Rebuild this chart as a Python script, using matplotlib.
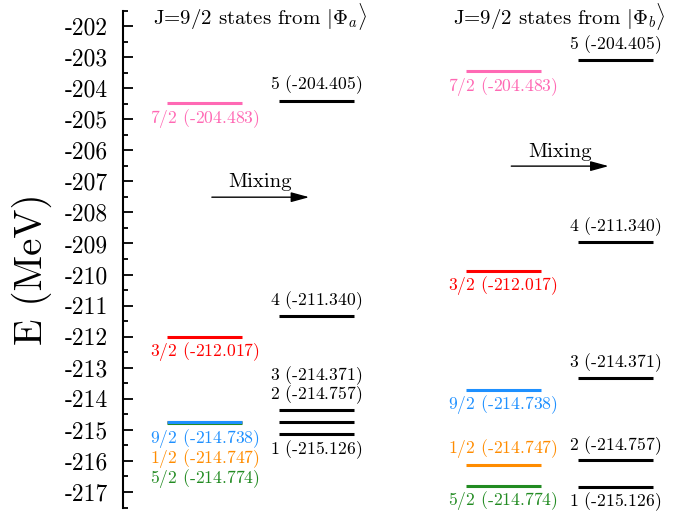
import matplotlib
matplotlib.use("Agg")
import matplotlib.pyplot as plt
from matplotlib.ticker import MultipleLocator, FuncFormatter

plt.rcParams['font.family'] = 'cmr10'
plt.rcParams['mathtext.fontset'] = 'cm'
plt.rcParams['axes.unicode_minus'] = False

# unmixed states (J labels and energies)
j_labels = ["7/2", "3/2", "9/2", "1/2", "5/2"]
j_energy = [-204.483, -212.017, -214.738, -214.747, -214.774]
j_colors = ["#ff69b4", "#ff0000", "#1e90ff", "#ff8c00", "#228b22"]

# mixed states
mix_labels = ["5", "4", "3", "2", "1"]
mix_energy = [-204.405, -211.340, -214.371, -214.757, -215.126]

# where the levels are drawn in the right (schematic) panel
b_j_draw = [-203.45, -209.89, -213.72, -216.13, -216.80]
b_mix_draw = [-203.09, -208.96, -213.34, -215.98, -216.83]

# label y positions for the left panel
a_j_label_y = [-204.97, -212.48, -215.27, -215.91, -216.58]
a_mix_label_y = [-203.90, -210.85, -213.26, -213.88, -215.65]
# label y positions for the right panel
b_j_label_y = [-203.95, -210.36, -214.20, -215.59, -217.29]
b_mix_label_y = [-202.61, -208.46, -212.84, -215.51, -217.31]

fig = plt.figure(figsize=(6.89, 5.13), dpi=100)
ax = fig.add_axes([123 / 689, 5.5 / 513, 566 / 689, 497 / 513])
ax.set_xlim(0, 10)
ax.set_ylim(-217.5, -201.5)

half = 0.66
lw = 2.2
fs = 12.7

def level_label(x, y, num, val, color):
    ax.text(x, y, "$" + num + "$ (" + val + ")", color=color, fontsize=fs,
            ha="center", va="center")

for xc_j, xc_m, jy, my, jly, mly, title in [
        (1.44, 3.415, j_energy, mix_energy, a_j_label_y, a_mix_label_y, r"J=9/2 states from $|\Phi_a\rangle$"),
        (6.72, 8.70, b_j_draw, b_mix_draw, b_j_label_y, b_mix_label_y, r"J=9/2 states from $|\Phi_b\rangle$")]:
    for i in [0, 1, 4, 3, 2]:
        ax.hlines(jy[i], xc_j - half, xc_j + half, color=j_colors[i], lw=lw)
        level_label(xc_j, jly[i], j_labels[i], "%.3f" % j_energy[i], j_colors[i])
    for i in range(len(mix_labels)):
        ax.hlines(my[i], xc_m - half, xc_m + half, color="black", lw=lw)
        level_label(xc_m, mly[i], mix_labels[i], "%.3f" % mix_energy[i], "black")
    ax.text((xc_j + xc_m) / 2, -201.7, title, fontsize=15, ha="center", va="center",
            clip_on=False)

# mixing arrows
for x0, x1, y, ty in [(1.57, 3.29, -207.51, -207.01), (6.86, 8.58, -206.51, -206.05)]:
    ax.annotate("", xy=(x1, y), xytext=(x0, y),
                arrowprops=dict(arrowstyle="-|>,head_length=1.1,head_width=0.3",
                                color="black", lw=1.0, shrinkA=0, shrinkB=0))
    ax.text((x0 + x1) / 2, ty, "Mixing", fontsize=15, ha="center", va="center")

ax.set_ylabel("E (MeV)", fontsize=28)
ax.yaxis.set_label_coords(-0.125, 0.48)
ax.yaxis.set_major_locator(MultipleLocator(1))
ax.yaxis.set_minor_locator(MultipleLocator(0.5))
ax.yaxis.set_major_formatter(FuncFormatter(lambda v, p: "%d" % round(v)))
ax.tick_params(axis="y", which="major", direction="in", length=7, width=1.3,
               labelsize=17, pad=11)
ax.tick_params(axis="y", which="minor", direction="in", length=3.6, width=1.3)
for s in ["top", "right", "bottom"]:
    ax.spines[s].set_visible(False)
ax.spines["left"].set_linewidth(1.5)
ax.set_xticks([])

fig.savefig("out.png", dpi=100)
